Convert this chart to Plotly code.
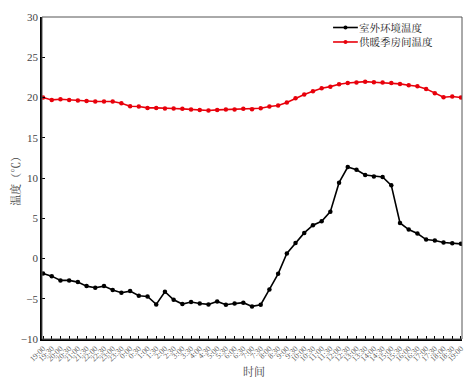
import plotly.graph_objects as go

# Half-hourly time labels, 19:00 to 19:00 next day
times = ["19:00", "19:30", "20:00", "20:30", "21:00", "21:30", "22:00", "22:30",
         "23:00", "23:30", "0:00", "0:30", "1:00", "1:30", "2:00", "2:30",
         "3:00", "3:30", "4:00", "4:30", "5:00", "5:30", "6:00", "6:30",
         "7:00", "7:30", "8:00", "8:30", "9:00", "9:30", "10:00", "10:30",
         "11:00", "11:30", "12:00", "12:30", "13:00", "13:30", "14:00", "14:30",
         "15:00", "15:30", "16:00", "16:30", "17:00", "17:30", "18:00", "18:30",
         "19:00"]

outdoor_temp = [-1.86, -2.19, -2.72, -2.72, -2.93, -3.43, -3.64, -3.43, -3.92, -4.25,
                -4.05, -4.63, -4.71, -5.70, -4.13, -5.12, -5.66, -5.41, -5.60, -5.70,
                -5.33, -5.74, -5.60, -5.49, -5.95, -5.74, -3.84, -1.90, 0.62, 1.94,
                3.18, 4.13, 4.63, 5.82, 9.42, 11.36, 11.03, 10.37, 10.20, 10.12,
                9.09, 4.42, 3.59, 3.10, 2.35, 2.23, 1.98, 1.90, 1.82]

room_temp = [20.00, 19.70, 19.79, 19.70, 19.62, 19.58, 19.50, 19.50, 19.50, 19.29,
             18.92, 18.88, 18.71, 18.71, 18.63, 18.63, 18.59, 18.50, 18.46, 18.38,
             18.46, 18.50, 18.50, 18.59, 18.55, 18.67, 18.88, 19.00, 19.37, 19.91,
             20.36, 20.78, 21.15, 21.35, 21.65, 21.81, 21.85, 21.97, 21.89, 21.85,
             21.81, 21.69, 21.52, 21.40, 21.07, 20.53, 20.03, 20.12, 20.00]

series_names = ["室外环境温度", "供暖季房间温度"]
series_colors = ["black", "#e8000b"]

idx = list(range(len(times)))
cjk = "Noto Serif CJK SC, Noto Sans CJK SC, serif"

fig = go.Figure()
for name, vals, col in zip(series_names, [outdoor_temp, room_temp], series_colors):
    fig.add_trace(go.Scatter(
        x=idx, y=vals, name=name, mode="lines+markers",
        line=dict(color=col, width=1.6), marker=dict(color=col, size=4.5),
        showlegend=False,
    ))

# Compact legend drawn in paper coordinates
shapes = [dict(type="rect", xref="paper", yref="paper", x0=0, x1=1, y0=0, y1=1,
               line=dict(color="#555", width=1), layer="above")]
annotations = []
legend_rows = [0.9674, 0.9224]
for name, col, ly in zip(series_names, series_colors, legend_rows):
    shapes.append(dict(type="line", xref="paper", yref="paper",
                       x0=0.693, x1=0.752, y0=ly, y1=ly,
                       line=dict(color=col, width=1.6)))
    shapes.append(dict(type="circle", xref="paper", yref="paper",
                       x0=0.7226 - 0.0048, x1=0.7226 + 0.0048,
                       y0=ly - 0.0063, y1=ly + 0.0063,
                       fillcolor=col, line=dict(color=col, width=0)))
    annotations.append(dict(text=name, xref="paper", yref="paper", x=0.753, y=ly,
                            xanchor="left", yanchor="middle", showarrow=False,
                            borderpad=0,
                            font=dict(family=cjk, size=10.5, color="#222")))

annotations += [
    dict(text="温度（℃）", xref="paper", yref="paper", x=-0.065, y=0.5,
         xanchor="center", yanchor="middle", textangle=-90, showarrow=False,
         font=dict(family=cjk, size=11, color="#444")),
    dict(text="时间", xref="paper", yref="paper", x=0.505, y=-0.1,
         xanchor="center", yanchor="middle", showarrow=False,
         font=dict(family=cjk, size=11, color="#444")),
]

fig.update_layout(
    width=466, height=379,
    margin=dict(l=42, r=4, t=17, b=40),
    paper_bgcolor="white", plot_bgcolor="white",
    showlegend=False,
    shapes=shapes,
    annotations=annotations,
)

fig.update_xaxes(
    range=[-0.12, 48.12], tickmode="array", tickvals=idx, ticktext=times,
    tickangle=-45, ticks="inside", ticklen=3, tickcolor="black",
    tickfont=dict(family="Liberation Serif, serif", size=8, color="#666"),
    showline=True, linecolor="black", linewidth=1.5, showgrid=False,
    zeroline=False, automargin=False,
)
fig.update_yaxes(
    range=[-10, 30], dtick=5, ticks="inside", ticklen=3, tickcolor="black",
    tickfont=dict(family="Liberation Serif, serif", size=11, color="#444"),
    showline=True, linecolor="black", linewidth=1.5, showgrid=False,
    zeroline=False, automargin=False,
)

fig.write_html("out.html")
